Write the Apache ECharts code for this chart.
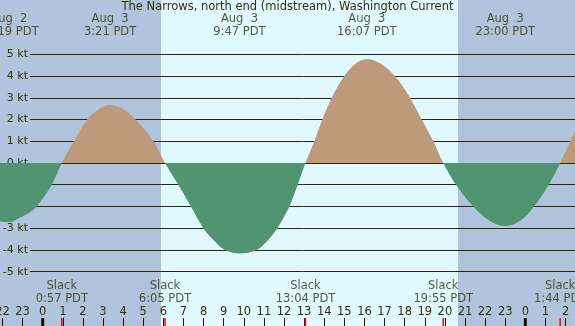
<!DOCTYPE html>
<html>
<head>
<meta charset="utf-8">
<script src="https://cdn.jsdelivr.net/npm/echarts@6/dist/echarts.min.js"></script>
<style>
  html, body { margin: 0; padding: 0; }
  #chart { width: 575px; height: 326px; }
</style>
</head>
<body>
<div id="chart"></div>
<script>
// all times are hours counted from Aug 3 00:00 PDT
// curve: extremes, slacks and where it crosses each knot line
const curveHours = [-2.6, -1.683, -1.129, -0.7, -0.298, 0.448, 0.95,
  1.556, 2.218, 2.849, 3.35, 3.86, 4.625, 5.5, 6.083,
  6.743, 7.37, 7.986, 8.5, 9.065, 9.783, 10.641, 11.15, 11.666, 12.263, 12.68, 13.067,
  13.506, 13.904, 14.371, 14.997, 15.55, 16.117, 16.77, 17.518, 18.264, 18.846, 19.423, 19.917,
  20.552, 21.412, 22.2, 23.0, 23.8, 24.43, 25.17, 25.733, 26.6]
const curveKnots = [-2.62, -2.72, -2.52, -2.3, -2.0, -1.0, 0,
  1.0, 2.0, 2.52, 2.67, 2.55, 2.0, 1.0, 0,
  -1.0, -2.0, -3.0, -3.55, -4.0, -4.16, -4.0, -3.6, -3.0, -2.0, -1.0, 0,
  1.0, 2.0, 3.0, 4.0, 4.57, 4.79, 4.59, 4.0, 3.0, 2.0, 1.0, 0,
  -1.0, -2.0, -2.64, -2.9, -2.62, -2.0, -1.0, 0, 1.75]

const maxHours = [-1.683, 3.35, 9.783, 16.117, 23.0]
const maxLabels = ['Aug  2\n22:19 PDT', 'Aug  3\n3:21 PDT', 'Aug  3\n9:47 PDT',
  'Aug  3\n16:07 PDT', 'Aug  3\n23:00 PDT']
const slackHours = [0.95, 6.083, 13.067, 19.917, 25.733]
const slackLabels = ['Slack\n0:57 PDT', 'Slack\n6:05 PDT', 'Slack\n13:04 PDT',
  'Slack\n19:55 PDT', 'Slack\n1:44 PDT']
const midnightHours = [0, 24]
const hourTicks = []
for (let h = -2; h <= 26; h++) hourTicks.push(h)
const sunrise = 5.883
const sunset = 20.651

const TEXT = '#333300'
const FONT = 'DejaVu Sans'
const topRow = 6.34
const bottomRow = -5.98

const chart = echarts.init(document.getElementById('chart'))

const shortTick = (color, width) => (params, api) => {
  const x = api.coord([api.value(0), 0])[0]
  const bottom = params.coordSys.y + params.coordSys.height
  return {
    type: 'line',
    shape: { x1: x, y1: bottom - 8, x2: x, y2: bottom },
    style: { stroke: color, lineWidth: width },
  }
}

const option = {
  animation: false,
  backgroundColor: '#b0c4de',
  title: {
    text: 'The Narrows, north end (midstream), Washington Current',
    left: 'center',
    top: 1,
    padding: 0,
    textStyle: { fontFamily: FONT, fontSize: 11.5, fontWeight: 'normal', color: TEXT },
  },
  grid: [
    { left: 0, right: 0, top: 0, bottom: 0, outerBoundsMode: 'none' },
    { left: 30, right: 0, top: 54.3, bottom: 54.3, outerBoundsMode: 'none' },
  ],
  xAxis: [
    {
      gridIndex: 0,
      type: 'value',
      min: -2.123,
      max: 26.47,
      axisLine: { show: false, onZero: false },
      splitLine: { show: false },
      axisTick: {
        inside: true,
        length: 8,
        customValues: hourTicks,
        lineStyle: { color: '#1a1a00', width: 1 },
      },
      axisLabel: {
        inside: true,
        margin: 8,
        interval: 0,
        customValues: hourTicks,
        formatter: h => String(((h % 24) + 24) % 24),
        fontFamily: FONT,
        fontSize: 11.5,
        color: TEXT,
      },
      z: 3,
    },
    { gridIndex: 1, type: 'value', show: false, min: 0, max: 1 },
  ],
  yAxis: [
    { gridIndex: 0, type: 'value', min: -7.5, max: 7.5, show: false },
    {
      gridIndex: 1,
      type: 'value',
      min: -5,
      max: 5,
      interval: 1,
      axisLine: { show: false },
      axisTick: { show: false },
      splitLine: { lineStyle: { color: '#2b2b00', width: 1 } },
      axisLabel: {
        margin: 2,
        formatter: '{value} kt',
        fontFamily: FONT,
        fontSize: 11,
        color: TEXT,
      },
      z: 1,
    },
  ],
  visualMap: {
    show: false,
    seriesIndex: 1,
    dimension: 1,
    pieces: [
      { gt: -20, lt: 0, color: '#509470' },
      { gte: 0, lt: 20, color: '#be9a7a' },
    ],
  },
  series: [
    {
      // daylight band
      type: 'custom',
      xAxisIndex: 0,
      yAxisIndex: 0,
      z: 0,
      silent: true,
      data: [[sunrise, sunset]],
      renderItem: (params, api) => {
        const x1 = api.coord([api.value(0), 0])[0]
        const x2 = api.coord([api.value(1), 0])[0]
        return {
          type: 'rect',
          shape: { x: x1, y: params.coordSys.y, width: x2 - x1, height: params.coordSys.height },
          style: { fill: '#e0f8ff' },
        }
      },
    },
    {
      type: 'line',
      xAxisIndex: 0,
      yAxisIndex: 0,
      z: 2,
      smooth: 0.35,
      showSymbol: false,
      lineStyle: { width: 0 },
      areaStyle: { opacity: 1 },
      data: curveHours.map((h, i) => [h, curveKnots[i]]),
    },
    {
      type: 'scatter',
      xAxisIndex: 0,
      yAxisIndex: 0,
      z: 4,
      symbolSize: 0,
      label: {
        show: true,
        position: 'inside',
        formatter: p => p.name,
        fontFamily: FONT,
        fontSize: 11.5,
        lineHeight: 13,
        color: TEXT,
      },
      data: maxHours.map((h, i) => ({ name: maxLabels[i], value: [h, topRow] }))
        .concat(slackHours.map((h, i) => ({ name: slackLabels[i], value: [h, bottomRow] }))),
    },
    {
      type: 'custom',
      xAxisIndex: 0,
      yAxisIndex: 0,
      z: 4,
      data: midnightHours.map(h => [h]),
      renderItem: shortTick('#111100', 3),
    },
    {
      type: 'custom',
      xAxisIndex: 0,
      yAxisIndex: 0,
      z: 4,
      data: slackHours.map(h => [h]),
      renderItem: shortTick('#ff0000', 1.5),
    },
  ],
}

chart.setOption(option)
</script>
</body>
</html>
